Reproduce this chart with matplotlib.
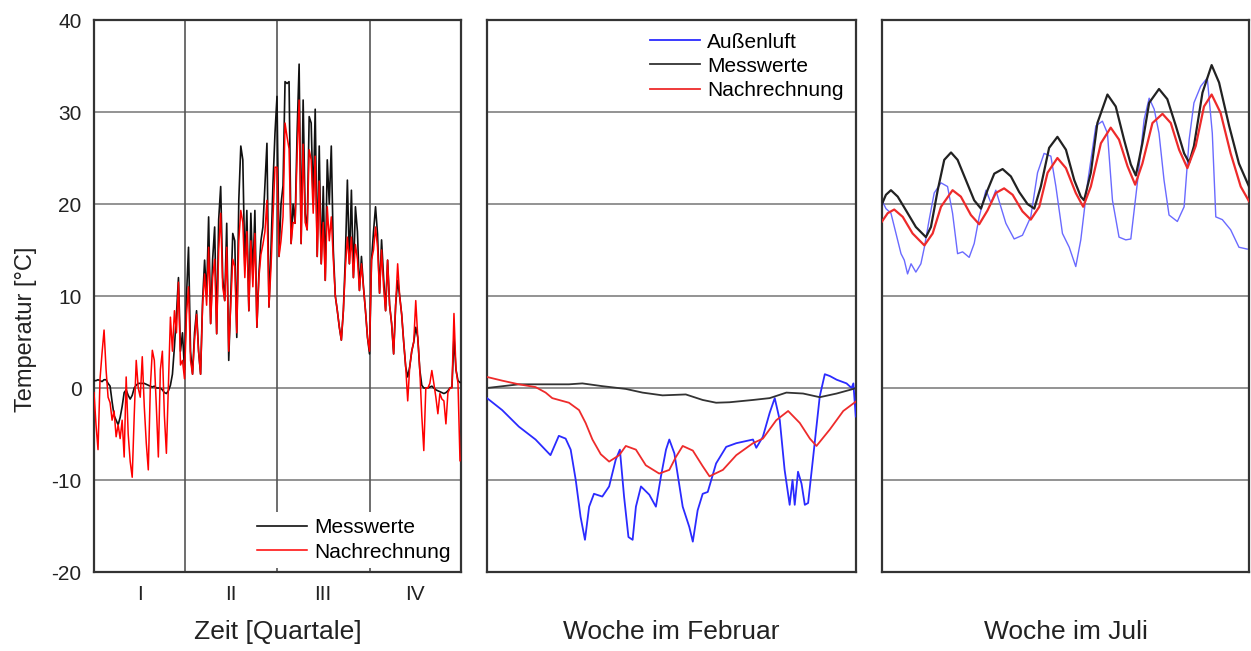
import matplotlib
matplotlib.use('Agg')
import matplotlib.pyplot as plt

plt.rcParams['font.family'] = ['Liberation Sans', 'DejaVu Sans']
plt.rcParams['axes.unicode_minus'] = False

# --- Jahresverlauf (alle 2 Tage) ---
year_days = list(range(0, 366, 2))
mess_year = [
    0.8, 0.8, 0.9, 0.8, 0.7, 0.9, 0.9, 0.5, 0.2, -1.5,
    -3.0, -3.5, -4.0, -3.2, -2.0, -0.5, -0.2, -0.8, -1.2, -0.8,
    0.0, 0.3, 0.5, 0.5, 0.5, 0.5, 0.4, 0.3, 0.2, 0.1,
    0.2, 0.0, 0.0, 0.0, -0.2, -0.5, -0.6, -0.3, 0.3, 1.5,
    4.5, 8.0, 12.0, 4.0, 6.0, 2.0, 10.0, 15.3, 4.0, 1.5,
    6.0, 8.4, 4.0, 1.5, 9.5, 13.9, 10.0, 18.6, 7.0, 14.0,
    17.5, 5.9, 18.3, 21.9, 12.0, 9.5, 17.9, 3.0, 10.0, 16.8,
    16.0, 5.5, 20.4, 26.3, 24.8, 13.2, 19.3, 8.4, 19.0, 12.0,
    19.3, 6.6, 12.4, 16.0, 17.5, 22.0, 26.6, 8.8, 15.0, 22.2,
    27.7, 31.7, 14.3, 20.0, 22.0, 33.3, 33.1, 33.3, 15.7, 20.0,
    17.9, 27.7, 35.2, 15.7, 31.3, 19.0, 17.2, 29.5, 28.8, 20.0,
    30.3, 14.3, 26.3, 13.5, 21.9, 11.7, 24.8, 20.0, 26.3, 15.0,
    10.0, 8.4, 6.6, 5.2, 8.4, 14.2, 22.6, 13.5, 21.5, 12.0,
    19.7, 17.0, 10.6, 14.3, 11.0, 8.4, 5.5, 3.7, 13.9, 17.0,
    19.7, 16.7, 10.3, 16.1, 12.0, 8.4, 13.9, 9.0, 7.0, 3.7,
    9.0, 11.7, 10.0, 8.0, 5.0, 2.3, 1.2, 2.3, 4.0, 5.0,
    6.6, 5.5, 2.0, 0.3, 0.0, 0.0, 0.0, 0.1, 0.2, 0.0,
    -0.2, -0.3, -0.4, -0.5, -0.6, -0.5, -0.3, 0.0, 0.1, 5.5,
    2.0, 0.8, 0.6]
nach_year = [
    -0.5, -4.0, -6.7, 1.0, 3.8, 6.3, 2.0, -1.0, -1.6, -3.5,
    -2.5, -5.3, -4.0, -5.5, -3.5, -7.5, 1.2, -5.0, -8.0, -9.7,
    -3.0, 3.0, 0.0, -1.0, 3.4, -2.0, -6.0, -8.9, 0.0, 4.1,
    3.0, -2.0, -7.5, 2.0, 4.0, -3.0, -7.1, 0.5, 7.7, 4.0,
    8.4, 6.0, 11.5, 2.5, 3.0, 1.0, 8.0, 11.0, 3.0, 1.5,
    5.2, 8.0, 4.0, 1.5, 9.0, 12.4, 9.0, 15.3, 7.0, 12.0,
    14.0, 5.9, 15.0, 19.0, 11.0, 9.5, 15.3, 4.0, 9.0, 14.0,
    13.2, 6.0, 16.0, 19.3, 18.0, 12.0, 17.0, 8.4, 16.0, 11.0,
    16.8, 6.6, 12.0, 14.5, 15.6, 17.0, 20.4, 8.8, 13.0, 18.6,
    24.0, 24.0, 14.3, 16.0, 18.6, 28.8, 27.3, 26.0, 15.7, 18.0,
    17.9, 25.2, 31.3, 15.7, 26.5, 18.0, 17.2, 25.9, 24.8, 19.0,
    25.2, 14.3, 22.5, 13.5, 18.0, 11.7, 19.7, 16.0, 18.6, 14.0,
    10.0, 8.4, 6.6, 5.2, 8.4, 13.0, 16.4, 13.5, 16.4, 12.0,
    15.6, 14.0, 10.6, 13.5, 11.0, 8.4, 5.5, 4.0, 13.9, 15.0,
    17.5, 15.3, 10.3, 15.0, 11.0, 8.4, 13.9, 9.0, 7.0, 3.7,
    9.0, 13.5, 10.0, 8.0, 5.0, 2.3, -1.4, 2.3, 4.0, 5.0,
    9.5, 5.5, 2.0, -3.0, -6.8, 0.0, 0.0, 0.5, 1.9, 0.5,
    -1.0, -2.8, -0.6, -1.2, -1.4, -3.9, -0.5, 0.0, 0.0, 8.1,
    2.0, 0.5, -7.9]
quarter_bounds = [91, 182, 274]
quarter_pos = [45.5, 136.5, 228, 319.5]
quarter_labels = ['I', 'II', 'III', 'IV']

# --- Woche im Februar (Stunden) ---
feb_luft_h = [0, 6.9, 14.5, 22.1, 28.9, 32.7, 35.8, 38.1, 40.4, 42.6,
              44.6, 46.5, 48.7, 52.5, 55.6, 58.6, 60.5, 62.4, 64.4, 66.3,
              67.8, 70.1, 73.9, 76.9, 79.2, 81.5, 83.0, 85.3, 89.1, 92.1,
              93.7, 95.9, 98.2, 100.5, 104.3, 108.9, 113.5, 121.1, 122.6, 125.6,
              128.7, 131.0, 133.3, 135.5, 137.8, 139.1, 140.1, 141.6, 143.2, 144.7,
              146.2, 148.5, 151.5, 153.8, 156.1, 159.2, 163.7, 166.0, 166.8, 167.9]
feb_luft = [-1.1, -2.4, -4.2, -5.6, -7.3, -5.2, -5.5, -6.7, -10.0, -14.0,
            -16.5, -12.9, -11.5, -11.8, -10.7, -7.8, -6.7, -11.8, -16.2, -16.5,
            -12.9, -10.7, -11.6, -12.9, -9.6, -6.7, -5.6, -7.1, -12.9, -15.1,
            -16.7, -13.3, -11.5, -11.3, -8.2, -6.4, -6.0, -5.6, -6.5, -5.3,
            -2.7, -1.1, -3.5, -8.9, -12.7, -10.0, -12.7, -9.1, -10.4, -12.7,
            -12.5, -7.5, -0.9, 1.5, 1.3, 0.9, 0.5, 0.0, 0.5, -3.1]
feb_mess_h = [0, 14.5, 37.3, 43.4, 52.5, 63.2, 70.8, 79.9, 90.5, 98.2,
              104.3, 110.4, 121.1, 128.7, 136.3, 143.9, 151.5, 159.2, 166.8, 168.0]
feb_mess = [0.0, 0.4, 0.4, 0.5, 0.2, -0.1, -0.5, -0.8, -0.7, -1.3,
            -1.6, -1.55, -1.3, -1.1, -0.5, -0.6, -1.0, -0.6, -0.1, 0.0]
feb_nach_h = [0, 6.9, 14.5, 22.1, 26.7, 29.7, 37.3, 41.9, 44.9, 48.0,
              51.8, 55.6, 60.2, 63.2, 67.8, 72.3, 78.4, 83.0, 86.0, 89.1,
              93.7, 98.2, 101.3, 107.4, 113.5, 121.1, 125.6, 131.7, 137.1, 142.4,
              147.0, 150.0, 156.1, 162.2, 167.8]
feb_nach = [1.2, 0.8, 0.4, 0.1, -0.5, -1.1, -1.6, -2.4, -3.8, -5.6,
            -7.2, -8.0, -7.3, -6.3, -6.7, -8.4, -9.3, -8.9, -7.5, -6.3,
            -6.8, -8.5, -9.6, -8.9, -7.3, -6.0, -5.5, -3.5, -2.5, -3.8,
            -5.5, -6.3, -4.5, -2.5, -1.5]

# --- Woche im Juli (Stunden) ---
jul_luft_h = [0, 1.8, 4.1, 6.4, 8.7, 10.2, 11.7, 13.3, 15.5, 17.8,
              19.4, 21.6, 23.9, 27.0, 30.0, 32.3, 34.6, 36.9, 39.9, 42.2,
              44.5, 47.6, 49.9, 52.1, 54.4, 56.7, 60.5, 64.3, 68.1, 71.2,
              74.2, 77.3, 79.6, 82.6, 85.7, 88.7, 91.0, 94.1, 97.9, 100.9,
              103.2, 105.5, 108.5, 111.6, 113.9, 116.9, 120.0, 122.3, 124.6, 126.8,
              129.1, 131.4, 135.2, 138.3, 140.6, 142.8, 145.9, 148.9, 151.2, 152.8,
              155.8, 159.6, 163.4, 167.2]
jul_luft = [20.4, 19.5, 19.0, 16.8, 14.6, 13.9, 12.4, 13.5, 12.6, 13.5,
            15.3, 18.3, 21.2, 22.3, 21.9, 19.0, 14.6, 14.8, 14.2, 15.7,
            18.6, 21.5, 20.1, 21.5, 19.7, 17.9, 16.2, 16.6, 18.6, 23.4,
            25.5, 25.2, 21.9, 16.8, 15.3, 13.2, 16.1, 22.3, 28.5, 29.0,
            27.7, 20.4, 16.4, 16.1, 16.2, 22.3, 29.2, 31.5, 30.3, 27.7,
            22.6, 18.8, 18.1, 19.7, 27.0, 31.0, 32.8, 33.7, 27.7, 18.6,
            18.3, 17.2, 15.3, 15.1]
jul_mess_h = [0, 1.8, 4.1, 7.2, 11.0, 15.5, 20.1, 22.4, 25.5, 28.5,
              31.6, 34.6, 38.4, 42.2, 45.3, 48.3, 51.4, 55.2, 59.0, 62.8,
              66.6, 69.7, 72.7, 76.5, 80.3, 84.2, 88.0, 91.0, 92.5, 95.6,
              98.6, 103.2, 107.0, 110.8, 113.9, 116.2, 119.2, 122.3, 126.8, 130.6,
              134.5, 138.3, 140.6, 142.8, 146.7, 150.9, 154.3, 158.9, 163.4, 168.0]
jul_mess = [20.0, 21.0, 21.5, 20.8, 19.3, 17.5, 16.4, 17.5, 21.5, 24.8,
            25.6, 24.8, 22.6, 20.4, 19.5, 21.5, 23.3, 23.8, 23.0, 21.3,
            20.0, 19.5, 21.9, 26.1, 27.3, 25.9, 22.6, 20.8, 20.4, 23.4,
            28.8, 31.9, 30.6, 27.0, 24.3, 23.1, 26.6, 31.0, 32.5, 31.4,
            28.5, 25.5, 24.5, 26.3, 32.1, 35.1, 33.2, 28.5, 24.4, 21.9]
jul_nach_h = [0, 2.6, 5.6, 9.5, 14.0, 19.4, 23.2, 27.0, 32.3, 36.1,
              40.7, 44.5, 48.3, 52.1, 55.9, 59.8, 64.3, 68.1, 72.0, 75.8,
              80.3, 84.2, 88.7, 92.1, 95.6, 100.2, 104.7, 108.5, 112.4, 115.9,
              119.2, 123.8, 128.4, 132.2, 136.0, 139.8, 143.6, 147.4, 150.9, 155.0,
              159.6, 164.2, 168.0]
jul_nach = [18.1, 19.0, 19.4, 18.6, 16.8, 15.5, 16.8, 19.7, 21.5, 20.8,
            18.8, 17.8, 19.3, 21.2, 21.7, 21.0, 19.2, 18.3, 19.7, 23.4,
            25.0, 23.9, 21.2, 19.7, 21.9, 26.6, 28.3, 27.0, 24.1, 22.1,
            24.4, 28.8, 29.8, 28.8, 25.9, 23.9, 26.3, 30.6, 31.9, 29.9,
            25.5, 21.9, 20.3]

W, H = 1251, 651
fig = plt.figure(figsize=(W / 100, H / 100), dpi=100)
ax1 = fig.add_axes([94 / W, 79 / H, 367 / W, 552 / H])
ax2 = fig.add_axes([487 / W, 79 / H, 369 / W, 552 / H])
ax3 = fig.add_axes([882 / W, 79 / H, 367 / W, 552 / H])

grid_col = '#8a8a8a'
for ax in (ax1, ax2, ax3):
    ax.set_ylim(-20, 40)
    for v in (-10, 0, 10, 20, 30):
        ax.axhline(v, color=grid_col, lw=1.3, zorder=1)
    for s in ax.spines.values():
        s.set_linewidth(1.6)
        s.set_color('#333333')
    ax.tick_params(length=0)

# Jahr
ax1.set_xlim(0, 365)
for q in quarter_bounds:
    ax1.axvline(q, color='#555555', lw=1.2, zorder=1)
ax1.plot(year_days, mess_year, color='#111111', lw=1.2, label='Messwerte', zorder=3)
ax1.plot(year_days, nach_year, color='#ff0000', lw=1.1, label='Nachrechnung', zorder=4)
ax1.set_yticks([-20, -10, 0, 10, 20, 30, 40])
ax1.set_xticks(quarter_pos)
ax1.set_xticklabels(quarter_labels)
ax1.tick_params(labelsize=15, pad=9, colors='#222222')
ax1.text(-0.185, 0.44, 'Temperatur [°C]', transform=ax1.transAxes, rotation=90,
         ha='center', va='center', fontsize=17, color='#222222')
leg1 = ax1.legend(loc='lower right', fontsize=15, handlelength=2.4, handletextpad=0.35,
                  labelspacing=0.25, borderpad=0.3, borderaxespad=0.2,
                  frameon=True, fancybox=False, framealpha=1, edgecolor='none')

# Februar
ax2.set_xlim(0, 168)
ax2.plot(feb_luft_h, feb_luft, color='#2b2bff', lw=1.3, label='Außenluft', zorder=3)
ax2.plot(feb_mess_h, feb_mess, color='#333333', lw=1.3, label='Messwerte', zorder=3)
ax2.plot(feb_nach_h, feb_nach, color='#ee2b2b', lw=1.3, label='Nachrechnung', zorder=4)
ax2.set_xticks([])
ax2.set_yticks([])
ax2.legend(loc='upper right', fontsize=15, handlelength=2.4, handletextpad=0.35,
           labelspacing=0.25, borderpad=0.3, borderaxespad=0.3, frameon=False)

# Juli
ax3.set_xlim(0, 168)
ax3.plot(jul_luft_h, jul_luft, color='#6a6aff', lw=1.0, zorder=2)
ax3.plot(jul_mess_h, jul_mess, color='#222222', lw=1.6, zorder=3)
ax3.plot(jul_nach_h, jul_nach, color='#ee2b2b', lw=1.6, zorder=4)
ax3.set_xticks([])
ax3.set_yticks([])

xl_y = -(632 - 572) / 552
ax1.text(0.5, xl_y, 'Zeit [Quartale]', transform=ax1.transAxes, ha='center', va='center',
         fontsize=19, color='#222222')
ax2.text(0.5, xl_y, 'Woche im Februar', transform=ax2.transAxes, ha='center', va='center',
         fontsize=19, color='#222222')
ax3.text(0.5, xl_y, 'Woche im Juli', transform=ax3.transAxes, ha='center', va='center',
         fontsize=19, color='#222222')

fig.savefig('out.png', dpi=100)
